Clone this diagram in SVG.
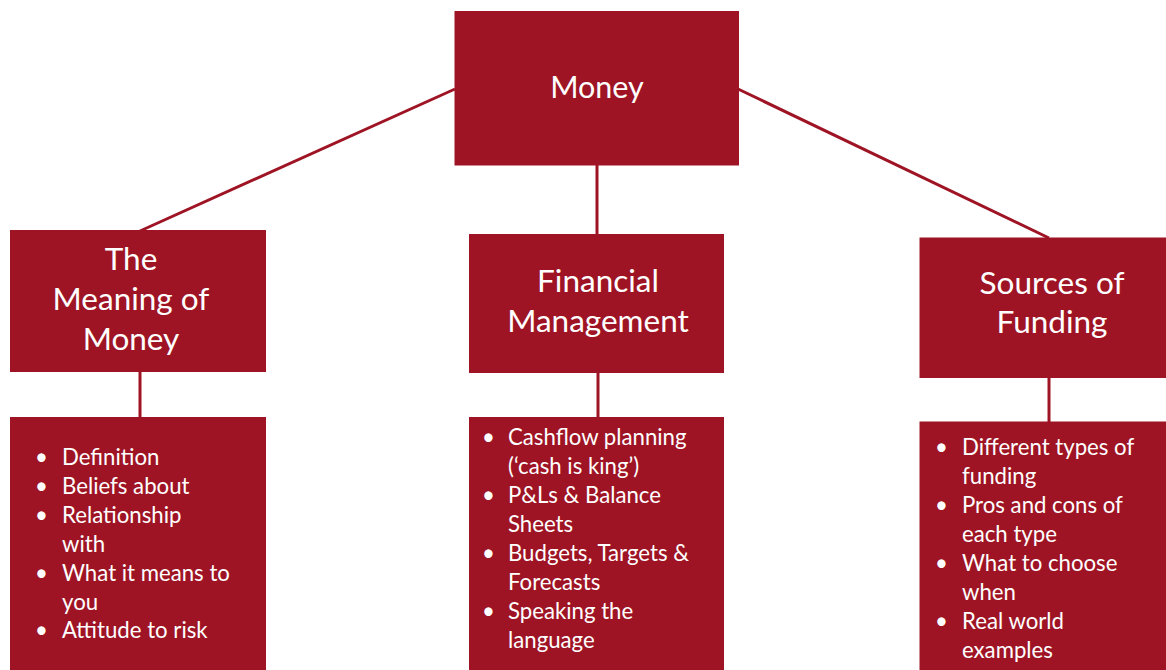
<svg xmlns="http://www.w3.org/2000/svg" width="1166" height="670" viewBox="0 0 1166 670">
<style>
.box{fill:#9E1424;}
.ln{stroke:#9E1424;stroke-width:3;fill:none;}
.t{font-family:Lato,"Open Sans","Liberation Sans",sans-serif;fill:#fff;}
.h{font-size:31.5px;text-anchor:middle;}
.b{font-size:22.2px;}
</style>
<rect width="1166" height="670" fill="#fff"/>
<g id="connectors">
<line class="ln" x1="455" y1="89" x2="140" y2="231"/>
<line class="ln" x1="738" y1="89" x2="1049" y2="238"/>
<line class="ln" x1="597" y1="165" x2="597" y2="235"/>
<line class="ln" x1="140" y1="371" x2="140" y2="418"/>
<line class="ln" x1="598" y1="372" x2="598" y2="418"/>
<line class="ln" x1="1049" y1="377" x2="1049" y2="422"/>
</g>
<g id="money">
<rect class="box" x="454.5" y="11" width="284.5" height="154.5"/>
<text class="t" x="597" y="98" font-size="30.5" text-anchor="middle">Money</text>
</g>
<g id="meaning">
<rect class="box" x="10" y="230" width="256" height="142"/>
<text class="t h" x="131" y="270">The</text>
<text class="t h" x="131" y="310">Meaning of</text>
<text class="t h" x="131" y="350">Money</text>
</g>
<g id="meaning-list">
<rect class="box" x="10" y="417" width="256" height="260"/>
<g class="t b">
<text x="35" y="465">•</text><text x="62" y="465">Definition</text>
<text x="35" y="494">•</text><text x="62" y="494">Beliefs about</text>
<text x="35" y="523">•</text><text x="62" y="523">Relationship</text>
<text x="62" y="552">with</text>
<text x="35" y="581">•</text><text x="62" y="581">What it means to</text>
<text x="62" y="610">you</text>
<text x="35" y="638">•</text><text x="62" y="638">Attitude to risk</text>
</g>
</g>
<g id="financial">
<rect class="box" x="469" y="234" width="255" height="139"/>
<text class="t h" x="598" y="292">Financial</text>
<text class="t h" x="598" y="332">Management</text>
</g>
<g id="financial-list">
<rect class="box" x="469" y="417" width="255" height="260"/>
<g class="t b">
<text x="482" y="445">•</text><text x="508" y="445">Cashflow planning</text>
<text x="508" y="474">(‘cash is king’)</text>
<text x="482" y="503">•</text><text x="508" y="503">P&amp;Ls &amp; Balance</text>
<text x="508" y="532">Sheets</text>
<text x="482" y="561">•</text><text x="508" y="561">Budgets, Targets &amp;</text>
<text x="508" y="590">Forecasts</text>
<text x="482" y="619">•</text><text x="508" y="619">Speaking the</text>
<text x="508" y="648">language</text>
</g>
</g>
<g id="sources">
<rect class="box" x="919.5" y="237.5" width="250" height="140.5"/>
<text class="t h" x="1052" y="294">Sources of</text>
<text class="t h" x="1052" y="333">Funding</text>
</g>
<g id="sources-list">
<rect class="box" x="919.5" y="421.5" width="250" height="260"/>
<g class="t b">
<text x="935" y="455">•</text><text x="962" y="455">Different types of</text>
<text x="962" y="484">funding</text>
<text x="935" y="513">•</text><text x="962" y="513">Pros and cons of</text>
<text x="962" y="542">each type</text>
<text x="935" y="571">•</text><text x="962" y="571">What to choose</text>
<text x="962" y="600">when</text>
<text x="935" y="629">•</text><text x="962" y="629">Real world</text>
<text x="962" y="658">examples</text>
</g>
</g>
</svg>
